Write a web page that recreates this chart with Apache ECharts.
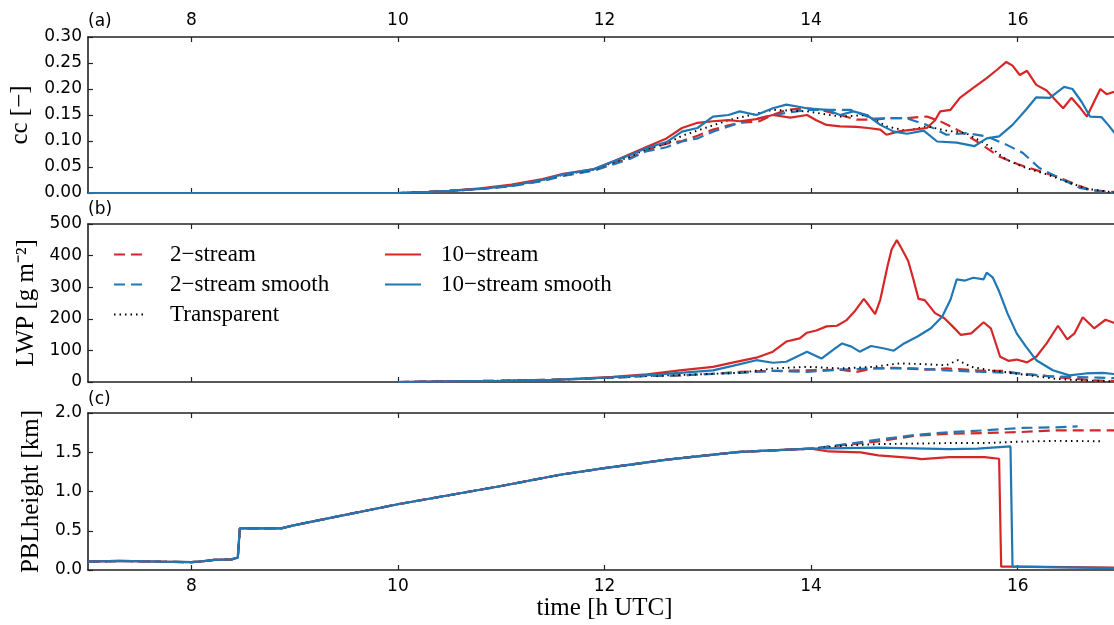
<!DOCTYPE html>
<html>
<head>
<meta charset="utf-8">
<script src="https://cdn.jsdelivr.net/npm/echarts@6/dist/echarts.min.js"></script>
<style>
html,body{margin:0;padding:0;background:#fff;}
#chart{width:1114px;height:625px;}
</style>
</head>
<body>
<div id="chart"></div>
<script>
// ---------- tick labels ----------
const hourTicks = [8, 10, 12, 14, 16];

// ---------- panel (a): cloud cover cc ----------
const ccEarlyT = [7, 10, 10.3, 10.5, 10.8, 11.1, 11.4, 11.6, 11.9, 12.1, 12.25, 12.4, 12.6, 12.75, 12.9, 13.05, 13.2];

const cc10T = [13.31, 13.47, 13.63, 13.8, 13.96, 14.05, 14.15, 14.28, 14.44, 14.55, 14.67, 14.73, 14.86, 14.99, 15.12, 15.2, 15.25, 15.35, 15.44, 15.57, 15.7, 15.8, 15.89, 15.95, 16.02, 16.09, 16.18, 16.28, 16.36, 16.44, 16.52, 16.6, 16.67, 16.75, 16.8, 16.86, 16.94];
const cc10V = [0, 0, 0.002, 0.004, 0.009, 0.016, 0.027, 0.037, 0.046, 0.062, 0.075, 0.088, 0.105, 0.125, 0.135, 0.138, 0.14,
  0.138, 0.142, 0.15, 0.145, 0.15, 0.14, 0.131, 0.128, 0.127, 0.125, 0.122, 0.112, 0.119, 0.122, 0.125, 0.14, 0.157, 0.16, 0.183, 0.202, 0.221, 0.237, 0.252, 0.245, 0.227, 0.235, 0.208, 0.197, 0.18, 0.163, 0.183, 0.165, 0.147, 0.18, 0.2, 0.19, 0.195];

const cc10sT = [13.31, 13.47, 13.63, 13.76, 13.96, 14.15, 14.28, 14.41, 14.54, 14.67, 14.8, 14.93, 15.09, 15.22, 15.41, 15.58, 15.7, 15.82, 15.95, 16.08, 16.18, 16.31, 16.45, 16.53, 16.62, 16.7, 16.81, 16.88, 16.94];
const cc10sV = [0, 0, 0.002, 0.004, 0.008, 0.014, 0.025, 0.036, 0.046, 0.062, 0.073, 0.086, 0.098, 0.118, 0.125, 0.147, 0.15,
  0.157, 0.15, 0.163, 0.17, 0.163, 0.16, 0.15, 0.157, 0.15, 0.131, 0.118, 0.114, 0.12, 0.099, 0.097, 0.09, 0.105, 0.109, 0.131, 0.16, 0.184, 0.183, 0.204, 0.2, 0.175, 0.147, 0.146, 0.13, 0.115];

const cc2T = [13.31, 13.5, 13.63, 13.76, 13.96, 14.09, 14.28, 14.44, 14.6, 14.76, 14.92, 15.12, 15.25, 15.44, 15.63, 15.82, 16.02, 16.21, 16.37, 16.53, 16.7, 16.85, 16.94];
const cc2V = [0, 0, 0.002, 0.004, 0.008, 0.014, 0.024, 0.034, 0.044, 0.058, 0.068, 0.082, 0.095, 0.1, 0.11, 0.122, 0.13,
  0.135, 0.138, 0.15, 0.16, 0.163, 0.16, 0.15, 0.141, 0.141, 0.144, 0.144, 0.147, 0.138, 0.119, 0.096, 0.07, 0.054, 0.042, 0.032, 0.019, 0.006, 0.003, 0.002];

const cc2sT = [13.31, 13.63, 13.96, 14.38, 14.6, 14.76, 14.92, 15.12, 15.31, 15.5, 15.7, 15.89, 16.05, 16.21, 16.4, 16.6, 16.8, 16.94];
const cc2sV = [0, 0, 0.002, 0.004, 0.008, 0.013, 0.023, 0.033, 0.043, 0.056, 0.066, 0.08, 0.088, 0.099, 0.105, 0.118, 0.128,
  0.135, 0.15, 0.16, 0.16, 0.143, 0.144, 0.144, 0.131, 0.112, 0.115, 0.109, 0.093, 0.077, 0.048, 0.029, 0.01, 0.003, 0.001];

const ccTrT = [13.31, 13.63, 13.96, 14.28, 14.54, 14.73, 14.92, 15.12, 15.31, 15.5, 15.7, 15.89, 16.08, 16.28, 16.47, 16.67, 16.94];
const ccTrV = [0, 0, 0.002, 0.004, 0.008, 0.014, 0.025, 0.035, 0.045, 0.06, 0.07, 0.084, 0.095, 0.11, 0.12, 0.13, 0.14,
  0.145, 0.16, 0.157, 0.147, 0.15, 0.128, 0.12, 0.128, 0.12, 0.115, 0.093, 0.064, 0.048, 0.036, 0.022, 0.008, 0.001];

// ---------- panel (b): LWP ----------
const lwpEarlyT = [10, 10.5, 11, 11.5, 11.76, 12.08, 12.41, 12.73, 13.05];

const lwp10T = [13.25, 13.47, 13.63, 13.76, 13.89, 13.96, 14.05, 14.15, 14.25, 14.34, 14.42, 14.51, 14.56, 14.62, 14.67, 14.74, 14.78, 14.83, 14.88, 14.94, 14.99, 15.04, 15.1, 15.2, 15.29, 15.37, 15.45, 15.55, 15.67, 15.74, 15.83, 15.91, 15.99, 16.09, 16.18, 16.28, 16.39, 16.48, 16.55, 16.63, 16.74, 16.85, 16.94];
const lwp10V = [0, 2, 4, 7, 11, 16, 24, 37, 48,
  62, 77, 96, 128, 138, 156, 163, 176, 178, 195, 223, 263, 242, 215, 261, 367, 420, 449, 420, 383, 325, 263, 259, 218, 202, 176, 149, 154, 189, 170, 80, 67, 71, 62, 80, 122, 178, 135, 154, 205, 170, 197, 186];

const lwp10sT = [13.25, 13.47, 13.63, 13.76, 13.96, 14.1, 14.21, 14.3, 14.39, 14.47, 14.58, 14.71, 14.8, 14.9, 15.03, 15.16, 15.27, 15.35, 15.41, 15.49, 15.57, 15.67, 15.7, 15.76, 15.82, 15.9, 15.99, 16.08, 16.18, 16.34, 16.5, 16.66, 16.82, 16.94];
const lwp10sV = [0, 2, 4, 7, 10, 15, 22, 29, 37,
  52, 69, 61, 64, 96, 74, 101, 122, 112, 96, 114, 106, 99, 122, 144, 170, 207, 261, 325, 321, 330, 325, 346, 330, 287, 218, 154, 112, 69, 37, 21, 27, 29, 25];

const lwp2T = [13.31, 13.63, 13.96, 14.28, 14.44, 14.6, 14.8, 15.12, 15.31, 15.5, 15.67, 15.86, 16.02, 16.21, 16.37, 16.53, 16.73, 16.94];
const lwp2V = [0, 2, 4, 7, 10, 14, 19, 21, 26,
  32, 35, 37, 39, 32, 43, 45, 39, 43, 39, 35, 35, 27, 21, 16, 11, 5, 3];

const lwp2sT = [13.31, 13.63, 13.96, 14.28, 14.6, 14.99, 15.31, 15.67, 16.02, 16.31, 16.53, 16.78, 16.94];
const lwp2sV = [0, 2, 4, 7, 10, 14, 19, 21, 26,
  29, 35, 32, 39, 43, 43, 37, 32, 27, 18, 16, 14, 12];

const lwpTrT = [13.31, 13.63, 13.96, 14.28, 14.6, 14.86, 15.12, 15.31, 15.42, 15.55, 15.7, 15.86, 16.02, 16.18, 16.34, 16.5, 16.66, 16.94];
const lwpTrV = [0, 2, 4, 7, 10, 14, 19, 22, 26,
  29, 43, 48, 43, 48, 59, 56, 53, 69, 48, 39, 32, 25, 18, 11, 7, 5, 2];

// ---------- panel (c): PBL height ----------
const pblEarlyT = [7, 7.3, 7.7, 8.0, 8.08, 8.22, 8.39, 8.45, 8.47, 8.66, 8.87, 8.98, 9.12, 10.0, 11.0, 11.57, 12.0, 12.59, 13.28, 13.62, 14.0];
const pblEarlyV = [0.106, 0.115, 0.106, 0.10, 0.106, 0.128, 0.136, 0.157, 0.53, 0.53, 0.53, 0.566, 0.604, 0.838, 1.07, 1.213, 1.298, 1.404, 1.502, 1.523, 1.545];

const pbl10T = [14.17, 14.48, 14.65, 15.0, 15.07, 15.34, 15.68, 15.82, 15.84, 16.0, 16.94];
const pbl10V = [1.51, 1.498, 1.46, 1.426, 1.413, 1.438, 1.438, 1.417, 0.043, 0.043, 0.03];

const pbl10sT = [14.65, 15.34, 15.61, 15.93, 15.95, 16.94];
const pbl10sV = [1.56, 1.54, 1.545, 1.574, 0.043, 0.025];

const pbl2T = [14.3, 14.65, 15.0, 15.34, 15.68, 16.02, 16.36, 16.83, 16.94];
const pbl2V = [1.59, 1.638, 1.71, 1.736, 1.745, 1.757, 1.779, 1.779, 1.78];

const pbl2sT = [14.3, 14.65, 15.0, 15.34, 15.68, 16.02, 16.36, 16.58];
const pbl2sV = [1.596, 1.66, 1.72, 1.757, 1.779, 1.809, 1.817, 1.83];

const pblTrT = [14.3, 14.65, 15.34, 15.68, 16.02, 16.36, 16.83];
const pblTrV = [1.583, 1.604, 1.617, 1.617, 1.635, 1.645, 1.64];

// ---------- build ----------
function zip(t, v) { return t.map((x, i) => [x, v[i]]); }
const RED = '#d62728', BLUE = '#1f77b4';
const styles = {
  '2\u2212stream': { color: RED, type: [11, 6], width: 2.2 },
  '2\u2212stream smooth': { color: BLUE, type: [11, 6], width: 2.2 },
  'Transparent': { color: '#000', type: [1.5, 4], width: 1.9 },
  '10\u2212stream': { color: RED, type: 'solid', width: 2.2 },
  '10\u2212stream smooth': { color: BLUE, type: 'solid', width: 2.2 }
};
function mk(name, panel, data) {
  const s = styles[name];
  return {
    name: name, type: 'line', xAxisIndex: panel * 2, yAxisIndex: panel,
    data: data, showSymbol: false, symbol: 'none', smooth: false,
    itemStyle: { color: s.color },
    lineStyle: { color: s.color, width: s.width, type: s.type, cap: 'butt' },
    z: 2
  };
}
const series = [
  mk('2\u2212stream', 0, zip(ccEarlyT.concat(cc2T), cc2V)),
  mk('2\u2212stream smooth', 0, zip(ccEarlyT.concat(cc2sT), cc2sV)),
  mk('Transparent', 0, zip(ccEarlyT.concat(ccTrT), ccTrV)),
  mk('10\u2212stream', 0, zip(ccEarlyT.concat(cc10T), cc10V)),
  mk('10\u2212stream smooth', 0, zip(ccEarlyT.concat(cc10sT), cc10sV)),

  mk('2\u2212stream', 1, zip(lwpEarlyT.concat(lwp2T), lwp2V)),
  mk('2\u2212stream smooth', 1, zip(lwpEarlyT.concat(lwp2sT), lwp2sV)),
  mk('Transparent', 1, zip(lwpEarlyT.concat(lwpTrT), lwpTrV)),
  mk('10\u2212stream', 1, zip(lwpEarlyT.concat(lwp10T), lwp10V)),
  mk('10\u2212stream smooth', 1, zip(lwpEarlyT.concat(lwp10sT), lwp10sV)),

  mk('2\u2212stream', 2, zip(pblEarlyT.concat(pbl2T), pblEarlyV.concat(pbl2V))),
  mk('2\u2212stream smooth', 2, zip(pblEarlyT.concat(pbl2sT), pblEarlyV.concat(pbl2sV))),
  mk('Transparent', 2, zip(pblEarlyT.concat(pblTrT), pblEarlyV.concat(pblTrV))),
  mk('10\u2212stream', 2, zip(pblEarlyT.concat(pbl10T), pblEarlyV.concat(pbl10V))),
  mk('10\u2212stream smooth', 2, zip(pblEarlyT.concat(pbl10sT), pblEarlyV.concat(pbl10sV)))
];

const AX = '#222';
const SANS = 'DejaVu Sans';
const SERIF = 'Liberation Serif';
function xAx(grid, pos, showLabels, extra) {
  return Object.assign({
    type: 'value', gridIndex: grid, position: pos, min: 7, max: 17,
    axisLine: { show: true, onZero: false, lineStyle: { color: AX, width: 1.6 } },
    axisTick: { show: true, inside: true, length: 5, customValues: hourTicks, lineStyle: { color: AX, width: 1.2 } },
    axisLabel: { show: showLabels, customValues: hourTicks, fontFamily: SANS, fontSize: 17, color: '#000', margin: 8 },
    splitLine: { show: false }
  }, extra || {});
}
function yAx(grid, max, interval, dec, name, gap) {
  return {
    type: 'value', gridIndex: grid, min: 0, max: max, interval: interval,
    name: name, nameLocation: 'middle', nameGap: gap, nameRotate: 90,
    nameTextStyle: { fontFamily: SERIF, fontSize: 25, color: '#000' },
    axisLine: { show: true, lineStyle: { color: AX, width: 1.6 } },
    axisTick: { show: true, inside: true, length: 5, lineStyle: { color: AX, width: 1.2 } },
    axisLabel: { fontFamily: SANS, fontSize: 17, color: '#000', margin: 6,
      formatter: v => v.toFixed(dec) },
    splitLine: { show: false }
  };
}
const legendItemStyle = { color: 'rgba(0,0,0,0)', borderWidth: 0, opacity: 0 };

const option = {
  animation: false,
  backgroundColor: '#fff',
  title: [
    { text: '(a)', left: 88, top: 13, padding: 0, textStyle: { fontFamily: SANS, fontSize: 17, fontWeight: 'normal', color: '#000' } },
    { text: '(b)', left: 88, top: 201, padding: 0, textStyle: { fontFamily: SANS, fontSize: 17, fontWeight: 'normal', color: '#000' } },
    { text: '(c)', left: 88, top: 391, padding: 0, textStyle: { fontFamily: SANS, fontSize: 17, fontWeight: 'normal', color: '#000' } }
  ],
  legend: [
    { data: ['2\u2212stream', '2\u2212stream smooth', 'Transparent'], orient: 'vertical',
      left: 108, top: 238, itemWidth: 32, itemHeight: 14, itemGap: 7, selectedMode: false,
      itemStyle: legendItemStyle,
      textStyle: { fontFamily: SERIF, fontSize: 23, color: '#000', padding: [0, 0, 0, 19] } },
    { data: ['10\u2212stream', '10\u2212stream smooth'], orient: 'vertical',
      left: 379, top: 238, itemWidth: 36, itemHeight: 14, itemGap: 7, selectedMode: false,
      itemStyle: legendItemStyle,
      textStyle: { fontFamily: SERIF, fontSize: 23, color: '#000', padding: [0, 0, 0, 15] } }
  ],
  grid: [
    { left: 88, top: 37, width: 1033, height: 156, outerBoundsMode: 'none', containLabel: false },
    { left: 88, top: 224, width: 1033, height: 158, outerBoundsMode: 'none', containLabel: false },
    { left: 88, top: 413, width: 1033, height: 157, outerBoundsMode: 'none', containLabel: false }
  ],
  xAxis: [
    xAx(0, 'bottom', false),
    xAx(0, 'top', true),
    xAx(1, 'bottom', false),
    xAx(1, 'top', false),
    xAx(2, 'bottom', true, { name: 'time [h UTC]', nameLocation: 'middle', nameGap: 24,
      nameTextStyle: { fontFamily: SERIF, fontSize: 25, color: '#000' } }),
    xAx(2, 'top', false)
  ],
  yAxis: [
    yAx(0, 0.3, 0.05, 2, 'cc [\u2212]', 50),
    yAx(1, 500, 100, 0, 'LWP [g m\u207B\u00B2]', 44),
    yAx(2, 2.0, 0.5, 1, 'PBLheight [km]', 40)
  ],
  series: series
};
const chart = echarts.init(document.getElementById('chart'), null, { renderer: 'canvas' });
chart.setOption(option);
</script>
</body>
</html>
